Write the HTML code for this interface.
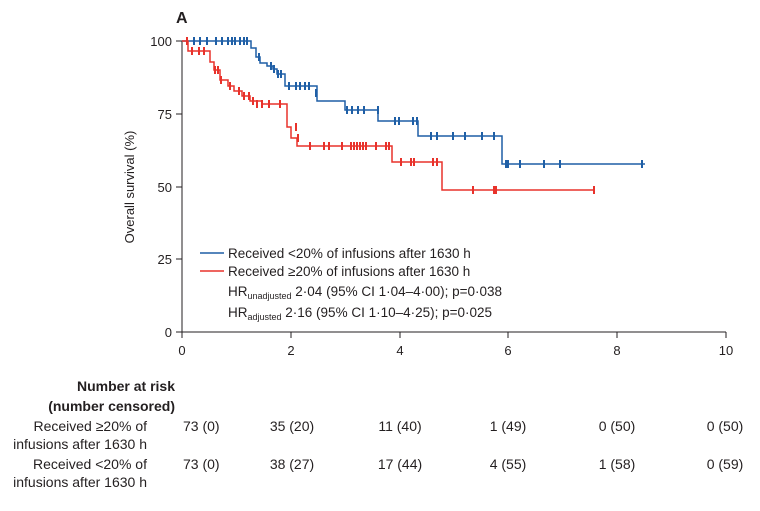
<!DOCTYPE html>
<html><head><meta charset="utf-8"><style>
body{margin:0;background:#fff;}
svg text{font-family:"Liberation Sans",sans-serif;fill:#231f20;}
</style></head><body>
<svg width="760" height="506" viewBox="0 0 760 506" xmlns="http://www.w3.org/2000/svg">
<text x="176" y="23" font-size="16" font-weight="bold">A</text>
<g stroke="#231f20" stroke-width="1" fill="none">
<path d="M182,41 V332 H726"/>
<path d="M176,41H182 M176,114H182 M176,187H182 M176,259H182 M176,332H182"/>
<path d="M182,332V338 M291,332V338 M400,332V338 M508,332V338 M617,332V338 M726,332V338"/>
</g>
<g font-size="13" text-anchor="end">
<text x="172" y="46">100</text><text x="172" y="119">75</text><text x="172" y="192">50</text><text x="172" y="264">25</text><text x="172" y="337">0</text>
</g>
<g font-size="13" text-anchor="middle">
<text x="182" y="355">0</text><text x="291" y="355">2</text><text x="400" y="355">4</text><text x="508" y="355">6</text><text x="617" y="355">8</text><text x="726" y="355">10</text>
</g>
<text transform="translate(134,187) rotate(-90)" font-size="13" text-anchor="middle">Overall survival (%)</text>
<path d="M182,41 H251 V48 H256 V57 H260 V63 H267 V66 H273 V69 H277 V74 H285 V86 H317 V101 H345 V110 H378 V121 H418 V136 H502 V164 H645" fill="none" stroke="#1f5fa6" stroke-width="1.5"/>
<g stroke="#1f5fa6" stroke-width="2">
<path d="M194,37v8M200,37v8M207,37v8M216,37v8M222,37v8M228,37v8M232,37v8M235,37v8M240,37v8M244,37v8M247,37v8M259,53v8M271,62v8M274,65v8M278,70v8M281,70v8M289,82v8M296,82v8M300,82v8M305,82v8M309,82v8M316,89v8M347,106v8M352,106v8M358,106v8M364,106v8M378,106v8M395,117v8M399,117v8M413,117v8M417,117v8M431,132v8M437,132v8M453,132v8M465,132v8M482,132v8M494,132v8M506,160v8M508,160v8M520,160v8M544,160v8M560,160v8M642,160v8"/>
</g>
<path d="M182,41 H188 V51 H210 V62 H214 V70 H220 V80 H228 V86 H234 V91 H242 V96 H250 V101 H262 V104 H287 V127 H291 V138 H297 V146 H392 V162 H442 V190 H595" fill="none" stroke="#e8322b" stroke-width="1.5"/>
<g stroke="#e8322b" stroke-width="2">
<path d="M187,37v8M192,47v8M199,47v8M204,47v8M215,66v8M218,66v8M221,76v8M230,82v8M239,87v8M244,92v8M249,92v8M253,97v8M257,100v8M262,100v8M269,100v8M280,100v8M296,123v8M298,134v8M310,142v8M324,142v8M329,142v8M342,142v8M351,142v8M354,142v8M357,142v8M360,142v8M363,142v8M366,142v8M376,142v8M386,142v8M389,142v8M401,158v8M411,158v8M414,158v8M433,158v8M437,158v8M473,186v8M494,186v8M496,186v8M594,186v8"/>
</g>
<line x1="200" y1="253" x2="224" y2="253" stroke="#1f5fa6" stroke-width="1.5"/>
<line x1="200" y1="271" x2="224" y2="271" stroke="#e8322b" stroke-width="1.5"/>
<g font-size="13.5">
<text x="228" y="258">Received &lt;20% of infusions after 1630 h</text>
<text x="228" y="276">Received ≥20% of infusions after 1630 h</text>
<text x="228" y="296">HR<tspan font-size="9" dy="3">unadjusted</tspan><tspan dy="-3"> 2·04 (95% CI 1·04–4·00); p=0·038</tspan></text>
<text x="228" y="317">HR<tspan font-size="9" dy="3">adjusted</tspan><tspan dy="-3"> 2·16 (95% CI 1·10–4·25); p=0·025</tspan></text>
</g>
<g font-size="14">
<text x="175" y="391" text-anchor="end" font-weight="bold">Number at risk</text>
<text x="175" y="411" text-anchor="end" font-weight="bold">(number censored)</text>
<text x="147" y="431" text-anchor="end">Received ≥20% of</text>
<text x="147" y="449" text-anchor="end">infusions after 1630 h</text>
<text x="147" y="469" text-anchor="end">Received &lt;20% of</text>
<text x="147" y="487" text-anchor="end">infusions after 1630 h</text>
<text x="183" y="431">73 (0)</text>
<text x="183" y="469">73 (0)</text>
<g text-anchor="middle">
<text x="292" y="431">35 (20)</text><text x="400" y="431">11 (40)</text><text x="508" y="431">1 (49)</text><text x="617" y="431">0 (50)</text><text x="725" y="431">0 (50)</text>
<text x="292" y="469">38 (27)</text><text x="400" y="469">17 (44)</text><text x="508" y="469">4 (55)</text><text x="617" y="469">1 (58)</text><text x="725" y="469">0 (59)</text>
</g>
</g>
</svg>
</body></html>
